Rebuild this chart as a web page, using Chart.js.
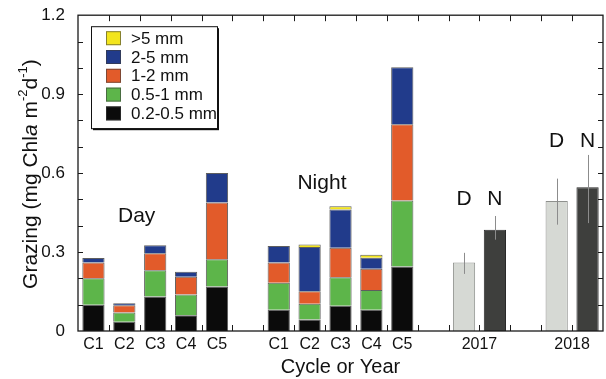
<!DOCTYPE html>
<html>
<head>
<meta charset="utf-8">
<script src="https://cdn.jsdelivr.net/npm/chart.js@4/dist/chart.umd.min.js"></script>
<style>
  html, body { margin: 0; padding: 0; background: #fff; }
</style>
</head>
<body>
<canvas id="bar-chart" width="606" height="379"></canvas>
<script>
// x positions of the cycle bars (gaps left at 5, 11 and 14)
var cyclePos = [0, 1, 2, 3, 4, 6, 7, 8, 9, 10];
var cycleLabels = ['C1', 'C2', 'C3', 'C4', 'C5', 'C1', 'C2', 'C3', 'C4', 'C5'];

// grazing by size class: day C1-C5, then night C1-C5
var g02 = [0.100, 0.035, 0.131, 0.060, 0.169, 0.081, 0.044, 0.096, 0.081, 0.245];
var g05 = [0.100, 0.035, 0.100, 0.079, 0.104, 0.102, 0.060, 0.108, 0.075, 0.251];
var g1  = [0.060, 0.028, 0.064, 0.067, 0.215, 0.077, 0.047, 0.112, 0.081, 0.290];
var g2  = [0.017, 0.007, 0.031, 0.019, 0.112, 0.063, 0.168, 0.146, 0.041, 0.216];
var g5  = [0, 0, 0, 0, 0, 0, 0.010, 0.012, 0.012, 0];

// yearly means with error range
var years = ['2017', '2018'];
var yearPos = [12.5, 15.5];
var dayPos = [12, 15];
var nightPos = [13, 16];
var dayMean = [0.260, 0.494];
var nightMean = [0.385, 0.546];
var dayLo = [0.217, 0.404];
var dayHi = [0.297, 0.579];
var nightLo = [0.347, 0.410];
var nightHi = [0.437, 0.669];
var dnLabelY = [0.50, 0.72];

var yTicks = [0, 0.3, 0.6, 0.9, 1.2];
var xTicks = cyclePos.concat(yearPos);
var xTickLabels = cycleLabels.concat(years);

var FONT = "'Liberation Sans', Arial, Helvetica, sans-serif";
Chart.defaults.font.family = FONT;
Chart.defaults.color = '#111';

function pts(xs, ys) {
    var out = [];
    for (var i = 0; i < xs.length; i++) {
        if (ys[i] > 0) out.push({ x: xs[i], y: ys[i] });
    }
    return out;
}

var sizeSets = [
    { label: '0.2-0.5 mm', values: g02, color: '#0b0b0b' },
    { label: '0.5-1 mm', values: g05, color: '#5db54a' },
    { label: '1-2 mm', values: g1, color: '#e25b2a' },
    { label: '2-5 mm', values: g2, color: '#213b8b' },
    { label: '>5 mm', values: g5, color: '#f3e51c' }
];

var datasets = sizeSets.map(function (s) {
    return {
        label: s.label,
        data: pts(cyclePos, s.values),
        backgroundColor: s.color,
        borderColor: 'rgba(40,40,40,0.75)',
        borderWidth: 1
    };
});
datasets.push({
    label: 'Day',
    data: pts(dayPos, dayMean),
    backgroundColor: '#d6d9d4',
    borderColor: '#8e908d',
    borderWidth: 1
});
datasets.push({
    label: 'Night',
    data: pts(nightPos, nightMean),
    backgroundColor: '#3e3f3d',
    borderColor: '#2a2a2a',
    borderWidth: 1
});

var decor = {
    id: 'decor',
    afterDatasetsDraw: function (chart) {
        var ctx = chart.ctx;
        var a = chart.chartArea;
        var xs = chart.scales.x, ys = chart.scales.y;
        var i, v, px, py;

        ctx.save();
        // error bars
        ctx.strokeStyle = '#8c8c8c';
        ctx.lineWidth = 1;
        function err(xv, lo, hi) {
            var x = Math.round(xs.getPixelForValue(xv)) + 0.5;
            ctx.beginPath();
            ctx.moveTo(x, ys.getPixelForValue(lo));
            ctx.lineTo(x, ys.getPixelForValue(hi));
            ctx.stroke();
        }
        for (i = 0; i < years.length; i++) {
            err(dayPos[i], dayLo[i], dayHi[i]);
            err(nightPos[i], nightLo[i], nightHi[i]);
        }

        // frame
        ctx.strokeStyle = '#1a1a1a';
        ctx.lineWidth = 1.3;
        ctx.strokeRect(a.left, a.top, a.right - a.left, a.bottom - a.top);

        // inward ticks
        ctx.lineWidth = 1;
        ctx.beginPath();
        for (v = 0.1; v < 1.19; v += 0.1) {
            py = Math.round(ys.getPixelForValue(v)) + 0.5;
            ctx.moveTo(a.left, py); ctx.lineTo(a.left + 5, py);
            ctx.moveTo(a.right, py); ctx.lineTo(a.right - 5, py);
        }
        for (v = 0.5; v < 16; v += 1) {
            px = Math.round(xs.getPixelForValue(v)) + 0.5;
            ctx.moveTo(px, a.top); ctx.lineTo(px, a.top + 6);
            ctx.moveTo(px, a.bottom); ctx.lineTo(px, a.bottom - 6);
        }
        ctx.stroke();

        // text labels in the plot
        ctx.fillStyle = '#111';
        ctx.textAlign = 'center';
        ctx.textBaseline = 'middle';
        ctx.font = '21px ' + FONT;
        ctx.fillText('Day', xs.getPixelForValue(1.4), ys.getPixelForValue(0.435));
        ctx.fillText('Night', xs.getPixelForValue(7.4), ys.getPixelForValue(0.56));
        for (i = 0; i < years.length; i++) {
            py = ys.getPixelForValue(dnLabelY[i]);
            ctx.fillText('D', xs.getPixelForValue(dayPos[i]), py);
            ctx.fillText('N', xs.getPixelForValue(nightPos[i]), py);
        }

        // legend box
        var lx = a.left + 13, ly = a.top + 11, lw = 126, lh = 102;
        ctx.fillStyle = '#111';
        ctx.fillRect(lx + 2, ly + 2, lw, lh);
        ctx.fillStyle = '#fff';
        ctx.fillRect(lx, ly, lw, lh);
        ctx.strokeStyle = '#111';
        ctx.lineWidth = 1;
        ctx.strokeRect(lx + 0.5, ly + 0.5, lw, lh);
        ctx.font = '17px ' + FONT;
        ctx.textAlign = 'left';
        for (i = 0; i < sizeSets.length; i++) {
            var s = sizeSets[sizeSets.length - 1 - i];
            var cy = ly + 12 + i * 18.8;
            ctx.fillStyle = s.color;
            ctx.fillRect(lx + 15, cy - 7, 15, 14);
            ctx.strokeStyle = 'rgba(60,60,60,0.6)';
            ctx.strokeRect(lx + 15.5, cy - 6.5, 14, 13);
            ctx.fillStyle = '#111';
            ctx.fillText(s.label, lx + 40, cy + 1);
        }

        // y axis title with italic and superscripts
        var parts = [
            { t: 'Grazing (mg Chl', f: '21px ' + FONT, dy: 0 },
            { t: 'a', f: 'italic 21px ' + FONT, dy: 0 },
            { t: ' m', f: '21px ' + FONT, dy: 0 },
            { t: '-2', f: '13px ' + FONT, dy: -8 },
            { t: 'd', f: '21px ' + FONT, dy: 0 },
            { t: '-1', f: '13px ' + FONT, dy: -8 },
            { t: ')', f: '21px ' + FONT, dy: 0 }
        ];
        var total = 0;
        parts.forEach(function (p) { ctx.font = p.f; p.w = ctx.measureText(p.t).width; total += p.w; });
        ctx.translate(31, (a.top + a.bottom) / 2 + 1);
        ctx.rotate(-Math.PI / 2);
        ctx.textBaseline = 'middle';
        var x0 = -total / 2;
        parts.forEach(function (p) {
            ctx.font = p.f;
            ctx.fillText(p.t, x0, p.dy);
            x0 += p.w;
        });
        ctx.restore();
    }
};

new Chart(document.getElementById('bar-chart'), {
    type: 'bar',
    data: { datasets: datasets },
    options: {
        responsive: false,
        animation: false,
        devicePixelRatio: 1,
        layout: { padding: { top: 12, right: 3, left: 0, bottom: 0 } },
        plugins: {
            legend: { display: false },
            tooltip: { enabled: false }
        },
        scales: {
            x: {
                type: 'linear',
                stacked: true,
                offset: false,
                min: -0.5,
                max: 16.5,
                grid: { display: false, drawTicks: false, tickLength: 0 },
                border: { display: false },
                afterBuildTicks: function (s) {
                    s.ticks = xTicks.map(function (v) { return { value: v }; });
                },
                afterFit: function (s) { s.height = 48; },
                ticks: {
                    autoSkip: false,
                    maxRotation: 0,
                    padding: 4,
                    font: { size: 16 },
                    callback: function (v, idx) { return xTickLabels[idx]; }
                },
                title: {
                    display: true,
                    text: 'Cycle or Year',
                    font: { size: 20 },
                    padding: { top: 0, bottom: 0 }
                }
            },
            y: {
                min: 0,
                max: 1.2,
                stacked: true,
                grid: { display: false },
                border: { display: false },
                afterBuildTicks: function (s) {
                    s.ticks = yTicks.map(function (v) { return { value: v }; });
                },
                afterFit: function (s) { s.width = 78; },
                ticks: {
                    padding: 5,
                    font: { size: 17 },
                    callback: function (v) { return v === 0 ? '0' : v.toFixed(1); }
                }
            }
        }
    },
    plugins: [decor]
});
</script>
</body>
</html>
